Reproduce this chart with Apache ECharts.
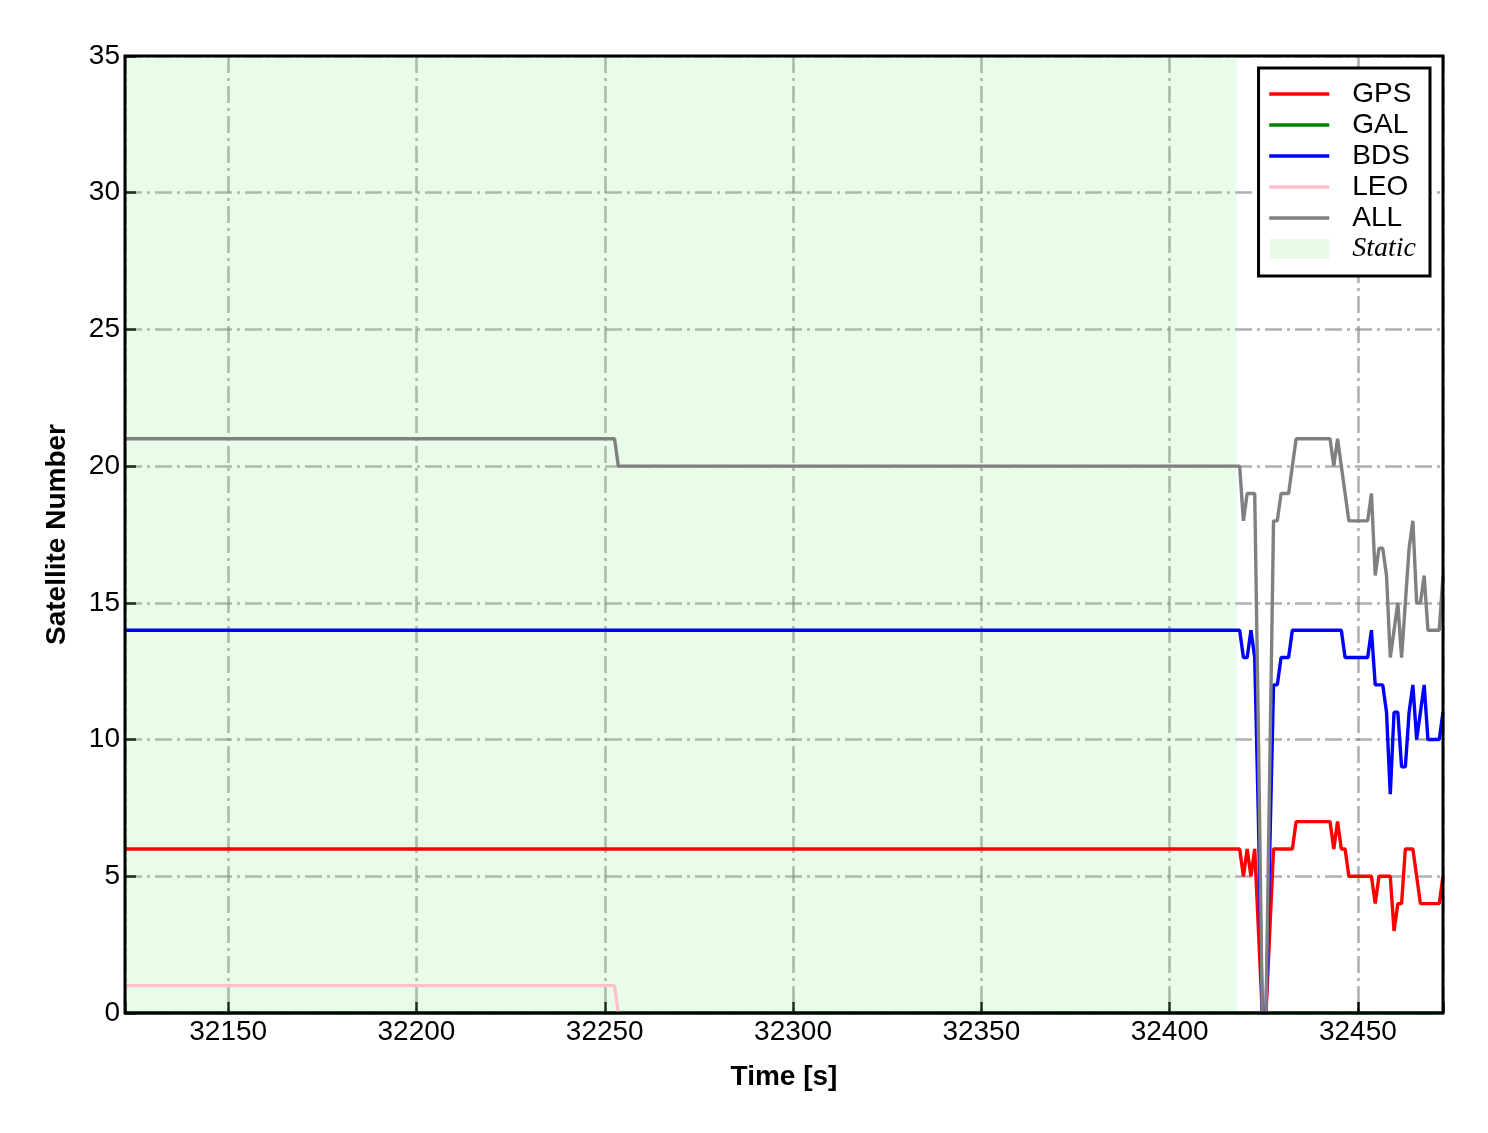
<!DOCTYPE html>
<html>
<head>
<meta charset="utf-8">
<script src="https://cdn.jsdelivr.net/npm/echarts@6/dist/echarts.min.js"></script>
<style>
html,body{margin:0;padding:0;background:#fff;}
#chart{width:1488px;height:1133px;}
</style>
</head>
<body>
<div id="chart"></div>
<script>
// ---- data (time [s], satellite count) ----
const xRange = [32122.6, 32472.6];
const xTicks = [32150, 32200, 32250, 32300, 32350, 32400, 32450];
const yTicks = [0, 5, 10, 15, 20, 25, 30, 35];
const staticRange = [32122.6, 32417.8];

const gpsData = [
  [32122.6, 6], [32418.6, 6], [32419.6, 5], [32420.6, 6], [32421.6, 5], [32422.6, 6],
  [32423.6, 3], [32424.6, 0], [32425.6, 0], [32426.6, 3], [32427.6, 6], [32432.6, 6],
  [32433.6, 7], [32442.6, 7], [32443.6, 6], [32444.6, 7], [32445.6, 6], [32446.6, 6],
  [32447.6, 5], [32453.6, 5], [32454.6, 4], [32455.6, 5], [32458.6, 5], [32459.6, 3],
  [32460.6, 4], [32461.6, 4], [32462.6, 6], [32464.6, 6], [32465.6, 5], [32466.6, 4],
  [32471.6, 4], [32472.6, 5]
];
const galData = [[32122.6, 0], [32472.6, 0]];
const bdsData = [
  [32122.6, 14], [32418.6, 14], [32419.6, 13], [32420.6, 13], [32421.6, 14], [32422.6, 13],
  [32423.6, 7], [32424.6, 0], [32425.6, 0], [32426.6, 6], [32427.6, 12], [32428.6, 12],
  [32429.6, 13], [32431.6, 13], [32432.6, 14], [32445.6, 14], [32446.6, 13], [32452.6, 13],
  [32453.6, 14], [32454.6, 12], [32456.6, 12], [32457.6, 11], [32458.6, 8], [32459.6, 11],
  [32460.6, 11], [32461.6, 9], [32462.6, 9], [32463.6, 11], [32464.6, 12], [32465.6, 10],
  [32466.6, 11], [32467.6, 12], [32468.6, 10], [32471.6, 10], [32472.6, 11]
];
const leoData = [[32122.6, 1], [32252.6, 1], [32253.6, 0]];
const allData = [
  [32122.6, 21], [32252.6, 21], [32253.6, 20], [32418.6, 20], [32419.6, 18], [32420.6, 19],
  [32422.6, 19], [32423.6, 10], [32424.6, 0], [32425.6, 0], [32426.6, 9], [32427.6, 18],
  [32428.6, 18], [32429.6, 19], [32431.6, 19], [32432.6, 20], [32433.6, 21], [32442.6, 21],
  [32443.6, 20], [32444.6, 21], [32445.6, 20], [32446.6, 19], [32447.6, 18], [32452.6, 18],
  [32453.6, 19], [32454.6, 16], [32455.6, 17], [32456.6, 17], [32457.6, 16], [32458.6, 13],
  [32459.6, 14], [32460.6, 15], [32461.6, 13], [32462.6, 15], [32463.6, 17], [32464.6, 18],
  [32465.6, 15], [32466.6, 15], [32467.6, 16], [32468.6, 14], [32471.6, 14], [32472.6, 16]
];

const seriesNames = ['GPS', 'GAL', 'BDS', 'LEO', 'ALL'];
const seriesColors = ['#ff0000', '#008000', '#0000ff', '#ffc0cb', '#808080'];
const seriesData = [gpsData, galData, bdsData, leoData, allData];
const staticColor = 'rgba(144,238,144,0.2)';

const FONT = 'Liberation Sans, Arial, sans-serif';
const LINE_W = 3.4;
const gridLine = { color: 'rgba(128,128,128,0.62)', width: 2.6, type: [17, 5, 3, 5] };

const series = seriesNames.map((name, i) => ({
  name: name,
  type: 'line',
  data: seriesData[i],
  symbol: 'none',
  showSymbol: false,
  animation: false,
  color: seriesColors[i],
  lineStyle: { color: seriesColors[i], width: LINE_W },
  z: 3 + i
}));
series.push({
  name: 'Static',
  type: 'line',
  data: [],
  symbol: 'none',
  animation: false,
  color: staticColor,
  z: -1,
  markArea: {
    silent: true,
    itemStyle: { color: staticColor },
    data: [[{ xAxis: staticRange[0] }, { xAxis: staticRange[1] }]]
  }
});

const legendData = seriesNames.map(n => ({ name: n }));
legendData.push({
  name: 'Static',
  icon: 'rect',
  itemStyle: { color: 'rgba(144,238,144,0.22)', opacity: 1 },
  textStyle: { fontFamily: 'Liberation Serif, Times New Roman, serif', fontStyle: 'italic', fontSize: 28, color: '#000', padding: [0, 0, 0, 18] }
});

const chart = echarts.init(document.getElementById('chart'), null, { renderer: 'canvas' });
chart.setOption({
  backgroundColor: '#ffffff',
  animation: false,
  grid: {
    left: 125, top: 56, width: 1318, height: 957, z: 10,
    show: true, borderColor: '#000', borderWidth: 3, backgroundColor: 'transparent'
  },
  legend: {
    orient: 'vertical',
    right: 58, top: 68,
    z: 20,
    data: legendData,
    itemWidth: 60, itemHeight: 20, itemGap: 3,
    backgroundColor: '#fff',
    borderColor: '#000', borderWidth: 3, borderRadius: 0,
    padding: [12, 14, 13, 9],
    selectedMode: false,
    itemStyle: { opacity: 0 },
    lineStyle: { width: LINE_W },
    textStyle: { fontFamily: FONT, fontSize: 28, color: '#000', padding: [0, 0, 0, 18] }
  },
  xAxis: {
    type: 'value',
    min: xRange[0], max: xRange[1],
    splitNumber: 7,
    name: 'Time [s]',
    nameLocation: 'middle',
    nameGap: 50,
    nameTextStyle: { fontFamily: FONT, fontSize: 28, fontWeight: 'bold', color: '#000' },
    axisLine: { show: false },
    axisTick: { show: true, inside: true, length: 11, lineStyle: { color: '#000', width: 2.5 } },
    axisLabel: {
      fontFamily: FONT, fontSize: 28, color: '#000', margin: 5,
      formatter: v => (xTicks.some(t => Math.abs(t - v) < 1e-6) ? String(Math.round(v)) : '')
    },
    splitLine: { show: true, lineStyle: gridLine }
  },
  yAxis: {
    type: 'value',
    min: yTicks[0], max: yTicks[yTicks.length - 1], interval: 5,
    name: 'Satellite Number',
    nameLocation: 'middle',
    nameGap: 54,
    nameTextStyle: { fontFamily: FONT, fontSize: 28, fontWeight: 'bold', color: '#000' },
    axisLine: { show: false },
    axisTick: { show: true, inside: true, length: 11, lineStyle: { color: '#000', width: 2.5 } },
    axisLabel: {
      fontFamily: FONT, fontSize: 28, color: '#000', margin: 5,
      formatter: v => (yTicks.includes(v) ? String(v) : '')
    },
    splitLine: { show: true, lineStyle: gridLine }
  },
  series: series
});
</script>
</body>
</html>
